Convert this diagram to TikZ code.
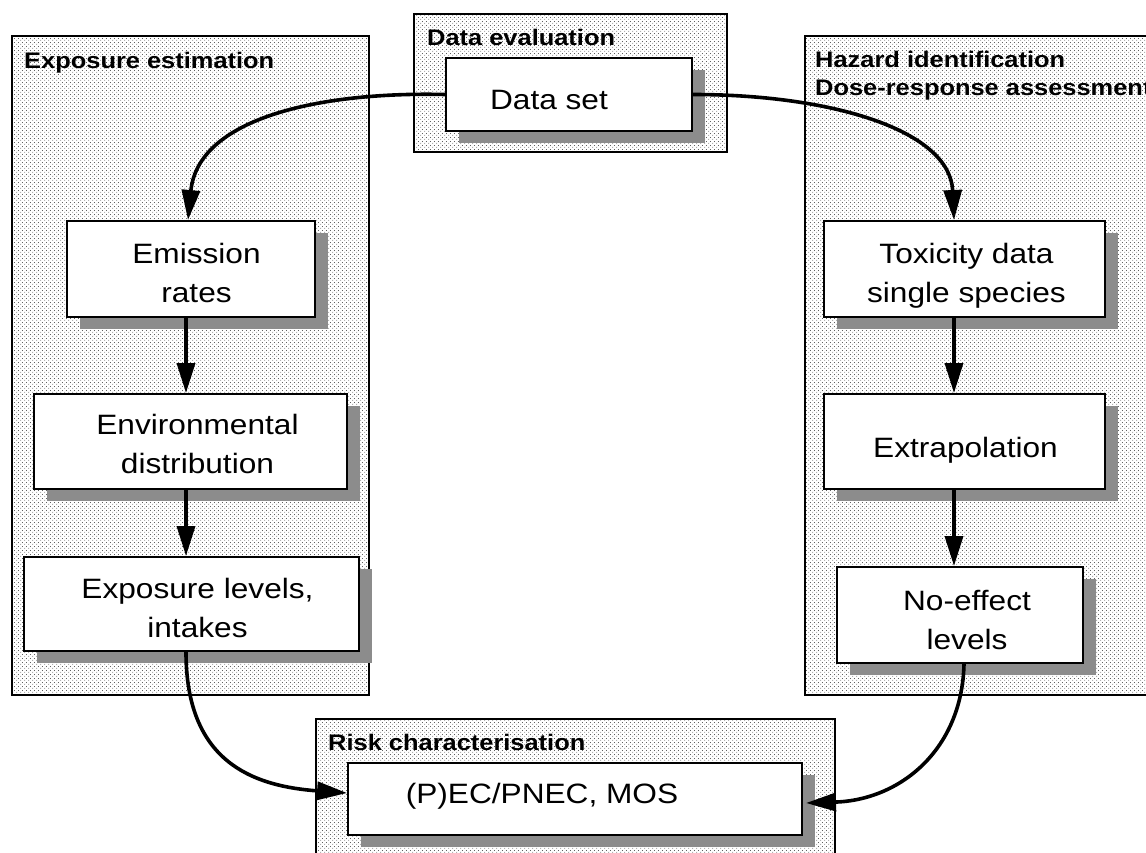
\documentclass[tikz,border=0pt]{standalone}
\usepackage{fontspec}
\setmainfont{Liberation Sans}[FakeStretch=1.13]
\usetikzlibrary{arrows.meta,shadows,patterns,calc}

% fine staggered dot screen used as panel background
\pgfdeclarepatternformonly{stipple}{\pgfqpoint{0pt}{0pt}}{\pgfqpoint{4pt}{4pt}}{\pgfqpoint{4pt}{4pt}}{%
  \pgfpathcircle{\pgfqpoint{1pt}{1pt}}{0.55pt}%
  \pgfpathcircle{\pgfqpoint{3pt}{3pt}}{0.55pt}%
  \pgfusepath{fill}}

\definecolor{shade}{gray}{0.55}

\tikzset{
  panel/.style={draw=black, line width=2pt, pattern=stipple, pattern color=black!85},
  box/.style={draw=black, line width=2pt, fill=white, inner sep=0pt,
    drop shadow={shadow xshift=13pt, shadow yshift=-12pt, fill=shade, opacity=1}},
  boxtext/.style={inner sep=0pt, align=center, font=\fontsize{28}{39}\selectfont},
  title/.style={inner sep=0pt, font=\fontsize{22.5}{28}\selectfont\bfseries},
  conn/.style={line width=3.6pt, -{Triangle[length=30pt,width=18pt]}},
}

\begin{document}
\begin{tikzpicture}[x=1pt,y=-1pt]
\useasboundingbox (0,0) rectangle (1146,852);
\clip (0,0) rectangle (1146,852);

% column axes for the straight connectors
\coordinate (lcol) at (186,0);
\coordinate (rcol) at (954,0);

% group panels
\path[panel] (12,36) rectangle (369,695);
\path[panel] (414,14) rectangle (727,152);
\path[panel] (805,36) rectangle (1170,695);
\path[panel] (316,719) rectangle (835,880);

% panel titles
\node[title, anchor=base west] (tExp) at (24,68) {Exposure estimation};
\node[title, anchor=base west] (tData) at (427,45) {Data evaluation};
\node[title, anchor=west, align=left] (tHaz) at (815,75.2) {Hazard identification\\Dose-response assessment};
\node[title, anchor=base west] (tRisk) at (328,750) {Risk characterisation};

% boxes
\node[box, minimum width=246pt, minimum height=73pt] (ds)   at (569,94.5) {};
\node[box, minimum width=248pt, minimum height=96pt] (em)   at (191,269) {};
\node[box, minimum width=313pt, minimum height=95pt] (env)  at (190.5,441.5) {};
\node[box, minimum width=335pt, minimum height=94pt] (expl) at (191.5,604) {};
\node[box, minimum width=281pt, minimum height=96pt] (tox)  at (964.5,269) {};
\node[box, minimum width=281pt, minimum height=95pt] (extr) at (964.5,441.5) {};
\node[box, minimum width=246pt, minimum height=96pt] (noef) at (960,615) {};
\node[box, minimum width=454pt, minimum height=72pt] (pec)  at (575,799) {};

% box captions
\node[boxtext] (dsT)   at (549,100)     {Data set};
\node[boxtext] (emT)   at (196.5,272.5) {Emission\\rates};
\node[boxtext] (envT)  at (197.5,444.3) {Environmental\\distribution};
\node[boxtext] (explT) at (197.5,607.5) {Exposure levels,\\intakes};
\node[boxtext] (toxT)  at (966.5,275.3) {Toxicity data\\single species};
\node[boxtext] (extrT) at (965.5,450.7) {Extrapolation};
\node[boxtext] (noefT) at (967,619.5)   {No-effect\\levels};
\node[boxtext] (pecT)  at (542,796.5)   {(P)EC/PNEC, MOS};

% connectors
\draw[conn] (ds.west) .. controls +(-125,-3) and (198,118) .. ($(em.north)+(-3,0)$);
\draw[conn] (ds.east) .. controls +(138,0) and (950,130) .. (tox.north -| rcol);
\draw[conn] (em.south -| lcol) -- (env.north -| lcol);
\draw[conn] (env.south -| lcol) -- (expl.north -| lcol);
\draw[conn] (tox.south -| rcol) -- (extr.north -| rcol);
\draw[conn] (extr.south -| rcol) -- (noef.north -| rcol);
\draw[conn] (expl.south -| lcol) .. controls (186,760) and (250,786) .. ($(pec.west)+(0,-6)$);
\draw[conn] ($(noef.south)+(4,0)$) .. controls (962,750) and (900,800) .. ($(pec.east)+(3,4)$);
\end{tikzpicture}
\end{document}
